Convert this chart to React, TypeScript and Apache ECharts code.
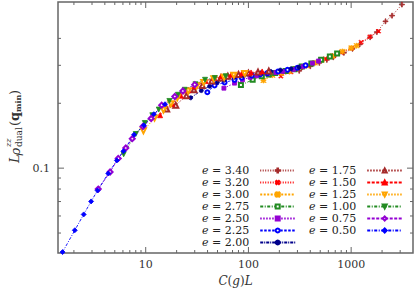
import React, { useEffect, useRef } from 'react';
import * as echarts from 'echarts';

// ---- tick values ----
const xTickMajor = [10, 100, 1000];
const xTickMinor = [2, 3, 4, 5, 6, 7, 8, 9, 20, 30, 40, 50, 60, 70, 80, 90, 200, 300, 400, 500, 600, 700, 800, 900, 2000, 3000];
const yTickMajor = [0.1];
const yTickMinor = [0.05, 0.06, 0.07, 0.08, 0.09, 0.2, 0.3, 0.4];

// ---- data (C(g)L , L rho) ----
const e340x = [312, 400, 490, 580, 670, 850, 1030, 1210, 1530, 1780, 2160, 2500, 3120];
const e340y = [0.283, 0.297, 0.308, 0.318, 0.327, 0.343, 0.358, 0.375, 0.405, 0.428, 0.48, 0.51, 0.574];
const e320x = [207, 259, 320, 380, 440, 560, 680, 800, 1010, 1250, 1520, 1850];
const e320y = [0.267, 0.279, 0.292, 0.3, 0.308, 0.322, 0.334, 0.344, 0.36, 0.384, 0.407, 0.432];
const e300x = [140, 172, 210, 250, 290, 365, 445, 520, 660, 820, 1000, 1130];
const e300y = [0.255, 0.27, 0.276, 0.281, 0.29, 0.299, 0.308, 0.318, 0.331, 0.348, 0.361, 0.37];
const e275x = [84.5, 110, 135, 158, 182, 230, 280, 330, 410, 510, 620, 730];
const e275y = [0.243, 0.257, 0.267, 0.272, 0.276, 0.282, 0.288, 0.296, 0.306, 0.318, 0.33, 0.34];
const e250x = [57.7, 73.2, 87.6, 104, 121, 153, 185, 216, 275, 340, 420, 480];
const e250y = [0.235, 0.248, 0.257, 0.264, 0.268, 0.274, 0.278, 0.281, 0.287, 0.296, 0.307, 0.314];
const e225x = [39.8, 46.8, 58.6, 73.2, 86, 108, 131, 153, 195, 240, 300, 360];
const e225y = [0.225, 0.242, 0.25, 0.257, 0.263, 0.269, 0.273, 0.276, 0.281, 0.286, 0.292, 0.3];
const e200x = [27.4, 34.8, 41.9, 49.8, 58, 73, 89, 104, 133, 165, 205, 260, 310];
const e200y = [0.212, 0.229, 0.24, 0.25, 0.256, 0.264, 0.269, 0.272, 0.277, 0.281, 0.285, 0.289, 0.294];
const e175x = [16.0, 19.6, 24.9, 29.5, 35.6, 44, 54, 63, 80, 100, 124, 158];
const e175y = [0.188, 0.196, 0.217, 0.231, 0.242, 0.254, 0.262, 0.267, 0.272, 0.276, 0.279, 0.282];
const e150x = [13.8, 18.0, 22.0, 26.0, 30.0, 38.2, 46.4, 54.2, 68, 86, 106, 136];
const e150y = [0.176, 0.199, 0.217, 0.23, 0.24, 0.254, 0.262, 0.267, 0.271, 0.275, 0.278, 0.281];
const e125x = [9.5, 12.2, 14.9, 17.6, 20.3, 25.9, 31.4, 36.7, 46, 58, 72, 92];
const e125y = [0.149, 0.171, 0.186, 0.199, 0.212, 0.228, 0.241, 0.25, 0.26, 0.264, 0.27, 0.275];
const e100x = [6.1, 8.0, 9.8, 11.6, 13.4, 17.0, 20.6, 24.0, 30.5, 37.8, 47, 60];
const e100y = [0.116, 0.144, 0.162, 0.176, 0.187, 0.205, 0.219, 0.231, 0.245, 0.257, 0.262, 0.267];
const e075x = [3.45, 4.5, 5.4, 6.4, 7.4, 9.4, 11.3, 14.3, 19.2, 23.0, 30.0];
const e075y = [0.08, 0.096, 0.111, 0.124, 0.137, 0.156, 0.17, 0.196, 0.215, 0.228, 0.244];
const e050x = [1.55, 2.04, 2.49, 2.94, 3.4, 4.32, 5.24, 6.07, 7.7, 9.6, 12.0, 15.4];
const e050y = [0.0408, 0.0515, 0.061, 0.0701, 0.0788, 0.0945, 0.1086, 0.1199, 0.143, 0.158, 0.178, 0.198];

const leftNames = ['e = 3.40', 'e = 3.20', 'e = 3.00', 'e = 2.75', 'e = 2.50', 'e = 2.25', 'e = 2.00'];
const rightNames = ['e = 1.75', 'e = 1.50', 'e = 1.25', 'e = 1.00', 'e = 0.75', 'e = 0.50'];

const PLUS = 'path://M4.2,0H5.8V4.2H10V5.8H5.8V10H4.2V5.8H0V4.2H4.2Z';
const STAR = 'path://M4.3,0H5.7V4.3H10V5.7H5.7V10H4.3V5.7H0V4.3H4.3Z M1,0L5,4L9,0L10,1L6,5L10,9L9,10L5,6L1,10L0,9L4,5L0,1Z';

const SERIES: any[] = [
  { name: 'e = 3.40', x: e340x, y: e340y, color: '#a52a2a', symbol: PLUS, rot: 0, size: 5, dash: [1, 1.5] },
  { name: 'e = 3.20', x: e320x, y: e320y, color: '#ff0000', symbol: PLUS, rot: 45, size: 5, dash: [1, 1.5] },
  { name: 'e = 3.00', x: e300x, y: e300y, color: '#ffa500', symbol: STAR, rot: 0, size: 5, dash: [2, 1.5] },
  { name: 'e = 2.75', x: e275x, y: e275y, color: '#228b22', symbol: 'emptyRect', rot: 0, size: 4, dash: [3, 1.5, 1, 1.5] },
  { name: 'e = 2.50', x: e250x, y: e250y, color: '#9400d3', symbol: 'rect', rot: 0, size: 4, dash: [1.5, 1.5] },
  { name: 'e = 2.25', x: e225x, y: e225y, color: '#0000ff', symbol: 'emptyCircle', rot: 0, size: 4, dash: [2.5, 1.5] },
  { name: 'e = 2.00', x: e200x, y: e200y, color: '#00008b', symbol: 'circle', rot: 0, size: 4, dash: [3, 1, 1, 1] },
  { name: 'e = 1.75', x: e175x, y: e175y, color: '#a52a2a', symbol: 'emptyTriangle', rot: 0, size: 5, dash: [1.5, 1.5] },
  { name: 'e = 1.50', x: e150x, y: e150y, color: '#ff0000', symbol: 'triangle', rot: 0, size: 5, dash: [3, 1.5] },
  { name: 'e = 1.25', x: e125x, y: e125y, color: '#ffa500', symbol: 'emptyTriangle', rot: 180, size: 5, dash: [1.5, 1.5] },
  { name: 'e = 1.00', x: e100x, y: e100y, color: '#228b22', symbol: 'triangle', rot: 180, size: 5, dash: [3, 1.5, 1, 1.5] },
  { name: 'e = 0.75', x: e075x, y: e075y, color: '#9400d3', symbol: 'emptyDiamond', rot: 0, size: 5, dash: [3, 1.5] },
  { name: 'e = 0.50', x: e050x, y: e050y, color: '#0000ff', symbol: 'diamond', rot: 0, size: 5, dash: [3, 1.5, 1, 1.5] },
];

const FONT = '"DejaVu Serif", "Liberation Serif", serif';
const TICK = '#666';

function fmtPow(v: number) {
  const l = Math.log10(v);
  return Math.abs(l - Math.round(l)) < 1e-6 ? String(Number(v.toPrecision(6))) : '';
}

export default function App() {
  const ref = useRef<HTMLDivElement>(null);
  useEffect(() => {
    if (!ref.current) return;
    const chart = echarts.init(ref.current, undefined, { renderer: 'svg' });

    const lineSeries = SERIES.map((s) => ({
      type: 'line',
      name: s.name,
      data: s.x.map((v: number, i: number) => [v, s.y[i]]),
      symbol: s.symbol,
      symbolSize: s.size,
      symbolRotate: s.rot,
      showAllSymbol: true,
      color: s.color,
      lineStyle: { color: s.color, width: 0.9, type: s.dash },
      itemStyle: { color: s.color, borderColor: s.color, borderWidth: 0.8 },
      z: 3,
      silent: true,
    }));

    const xTickData = xTickMajor.map((v) => [v, 0.1, 6]).concat(xTickMinor.map((v) => [v, 0.1, 3]));
    const yTickData = yTickMajor.map((v) => [10, v, 6]).concat(yTickMinor.map((v) => [10, v, 3]));

    const tickStyle = { stroke: TICK, lineWidth: 1 };

    const legendBase = {
      orient: 'vertical',
      align: 'right',
      itemWidth: 35,
      itemHeight: 5,
      itemGap: 1,
      padding: 0,
      formatter: (n: string) => '{i|e} = ' + n.slice(4),
      textStyle: {
        fontFamily: FONT,
        fontSize: 11,
        color: '#222',
        lineHeight: 11,
        padding: [0, 6, 0, 0],
        rich: { i: { fontStyle: 'italic', fontFamily: FONT, fontSize: 11, color: '#222', lineHeight: 11 } },
      },
    };

    const option: any = {
      animation: false,
      backgroundColor: '#fff',
      grid: { left: 58, right: 2, top: 2, bottom: 38, show: true, borderColor: '#666', borderWidth: 1.5, backgroundColor: 'transparent' },
      xAxis: {
        type: 'log',
        logBase: 10,
        min: 1.4,
        max: 4000,
        axisLine: { show: false },
        axisTick: { show: false },
        minorTick: { show: false },
        splitLine: { show: false },
        axisLabel: { formatter: fmtPow, margin: 6, fontFamily: FONT, fontSize: 11, color: '#333', showMinLabel: false, showMaxLabel: false },
        name: '{i|C}({i|g}){i|L}',
        nameLocation: 'middle',
        nameGap: 22,
        nameTextStyle: {
          fontFamily: FONT, fontSize: 12, color: '#333',
          rich: { i: { fontStyle: 'italic', fontFamily: FONT, fontSize: 12, color: '#333' } },
        },
      },
      yAxis: {
        type: 'log',
        logBase: 10,
        min: 0.0404,
        max: 0.59,
        axisLine: { show: false },
        axisTick: { show: false },
        minorTick: { show: false },
        splitLine: { show: false },
        axisLabel: { formatter: fmtPow, margin: 8, fontFamily: FONT, fontSize: 11, color: '#333', showMinLabel: false, showMaxLabel: false },
      },
      legend: [
        { ...legendBase, left: 202, top: 165, data: leftNames },
        { ...legendBase, left: 309, top: 165, data: rightNames },
      ],
      graphic: [
        {
          type: 'group',
          x: 14,
          y: 127,
          rotation: Math.PI / 2,
          children: [
            { type: 'text', x: -36, y: 0, style: { text: 'L', fontFamily: FONT, fontStyle: 'italic', fontSize: 13, fill: '#333', align: 'left', verticalAlign: 'middle' } },
            { type: 'text', x: -28.5, y: 1, style: { text: 'ρ', fontFamily: FONT, fontStyle: 'italic', fontSize: 13, fill: '#333', align: 'left', verticalAlign: 'middle' } },
            { type: 'text', x: -20, y: -6, style: { text: 'zz', fontFamily: FONT, fontStyle: 'italic', fontSize: 8, fill: '#333', align: 'left', verticalAlign: 'middle' } },
            { type: 'text', x: -20, y: 5, style: { text: 'dual', fontFamily: FONT, fontSize: 9, fill: '#333', align: 'left', verticalAlign: 'middle' } },
            { type: 'text', x: 1, y: 0, style: { text: '(', fontFamily: FONT, fontSize: 13, fill: '#333', align: 'left', verticalAlign: 'middle' } },
            { type: 'text', x: 6, y: 0, style: { text: 'q', fontFamily: FONT, fontWeight: 'bold', fontSize: 13, fill: '#333', align: 'left', verticalAlign: 'middle' } },
            { type: 'text', x: 15, y: 4, style: { text: 'min', fontFamily: FONT, fontWeight: 'bold', fontSize: 8, fill: '#333', align: 'left', verticalAlign: 'middle' } },
            { type: 'text', x: 32, y: 0, style: { text: ')', fontFamily: FONT, fontSize: 13, fill: '#333', align: 'left', verticalAlign: 'middle' } },
          ],
        },
      ],
      series: [
        ...lineSeries,
        {
          type: 'custom',
          name: 'xticks',
          silent: true,
          z: 10,
          data: xTickData,
          renderItem: (params: any, api: any) => {
            const cs = params.coordSys;
            const px = api.coord([api.value(0), api.value(1)])[0];
            const len = api.value(2);
            const b = cs.y + cs.height;
            return {
              type: 'group',
              children: [
                { type: 'line', shape: { x1: px, y1: b, x2: px, y2: b - len }, style: tickStyle },
                { type: 'line', shape: { x1: px, y1: cs.y, x2: px, y2: cs.y + len }, style: tickStyle },
              ],
            };
          },
        },
        {
          type: 'custom',
          name: 'yticks',
          silent: true,
          z: 10,
          data: yTickData,
          renderItem: (params: any, api: any) => {
            const cs = params.coordSys;
            const py = api.coord([api.value(0), api.value(1)])[1];
            const len = api.value(2);
            const r = cs.x + cs.width;
            return {
              type: 'group',
              children: [
                { type: 'line', shape: { x1: cs.x, y1: py, x2: cs.x + len, y2: py }, style: tickStyle },
                { type: 'line', shape: { x1: r, y1: py, x2: r - len, y2: py }, style: tickStyle },
              ],
            };
          },
        },
      ],
    };
    chart.setOption(option);
    return () => chart.dispose();
  }, []);
  return <div ref={ref} style={{ position: 'fixed', left: 0, top: 0, width: 415, height: 292 }} />;
}
